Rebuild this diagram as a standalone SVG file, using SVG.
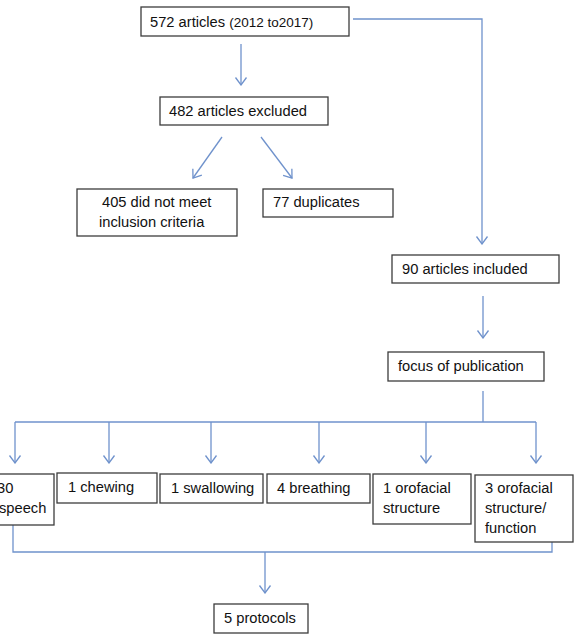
<svg xmlns="http://www.w3.org/2000/svg" width="576" height="635" viewBox="0 0 576 635">
<style>
.box{fill:#fff;stroke:#3c3c3c;stroke-width:1.3}
.t{font-family:"Liberation Sans",Arial,sans-serif;font-size:14.7px;fill:#111}
.s{font-size:13.5px}
.c{fill:none;stroke:#6f92cc;stroke-width:1.3}
</style>
<defs>
<marker id="ah" viewBox="-9 -7 10 14" markerWidth="10" markerHeight="14" markerUnits="userSpaceOnUse" refX="0" refY="0" orient="auto">
<path d="M-7.5,-5.5 L0,0 L-7.5,5.5" fill="none" stroke="#6f92cc" stroke-width="1.3"/>
</marker>
</defs>
<rect width="576" height="635" fill="#fff"/>
<g id="connectors">
<line class="c" x1="241" y1="44" x2="241" y2="85" marker-end="url(#ah)"/>
<polyline class="c" points="353,19 482,19 482,244" marker-end="url(#ah)"/>
<line class="c" x1="222" y1="137" x2="193" y2="178" marker-end="url(#ah)"/>
<line class="c" x1="261" y1="137" x2="292" y2="178" marker-end="url(#ah)"/>
<line class="c" x1="483" y1="296" x2="483" y2="338" marker-end="url(#ah)"/>
<line class="c" x1="483" y1="391" x2="483" y2="422"/>
<line class="c" x1="15" y1="422" x2="536" y2="422"/>
<line class="c" x1="15" y1="422" x2="15" y2="463" marker-end="url(#ah)"/>
<line class="c" x1="109" y1="422" x2="109" y2="463" marker-end="url(#ah)"/>
<line class="c" x1="211" y1="422" x2="211" y2="463" marker-end="url(#ah)"/>
<line class="c" x1="319" y1="422" x2="319" y2="463" marker-end="url(#ah)"/>
<line class="c" x1="426" y1="422" x2="426" y2="463" marker-end="url(#ah)"/>
<line class="c" x1="536" y1="422" x2="536" y2="463" marker-end="url(#ah)"/>
<polyline class="c" points="13,525 13,552 552,552 552,542"/>
<line class="c" x1="265" y1="552" x2="265" y2="593" marker-end="url(#ah)"/>
</g>
<g id="n572">
<rect class="box" x="141" y="7" width="208" height="29"/>
<text class="t" x="150" y="27">572 articles <tspan class="s">(2012 to2017)</tspan></text>
</g>
<g id="n482">
<rect class="box" x="160" y="97" width="168" height="28"/>
<text class="t" x="169" y="116">482 articles excluded</text>
</g>
<g id="n405">
<rect class="box" x="77" y="189" width="160" height="47"/>
<text class="t" x="102" y="207">405 did not meet</text>
<text class="t" x="99" y="227">inclusion criteria</text>
</g>
<g id="n77">
<rect class="box" x="263" y="189" width="130" height="28"/>
<text class="t" x="273" y="207">77 duplicates</text>
</g>
<g id="n90">
<rect class="box" x="392" y="255" width="167" height="28"/>
<text class="t" x="402" y="274">90 articles included</text>
</g>
<g id="nfocus">
<rect class="box" x="388" y="352" width="156" height="29"/>
<text class="t" x="398" y="371">focus of publication</text>
</g>
<g id="nspeech">
<rect class="box" x="-10" y="474" width="64" height="51"/>
<text class="t" x="-3" y="493">30</text>
<text class="t" x="-1" y="513">speech</text>
</g>
<g id="nchewing">
<rect class="box" x="57" y="473" width="100" height="30"/>
<text class="t" x="68" y="492">1 chewing</text>
</g>
<g id="nswallowing">
<rect class="box" x="160" y="474" width="103" height="29"/>
<text class="t" x="171" y="493">1 swallowing</text>
</g>
<g id="nbreathing">
<rect class="box" x="267" y="474" width="103" height="29"/>
<text class="t" x="277" y="493">4 breathing</text>
</g>
<g id="norofacial">
<rect class="box" x="373" y="474" width="98" height="50"/>
<text class="t" x="383" y="493">1 orofacial</text>
<text class="t" x="383" y="513">structure</text>
</g>
<g id="norofacial2">
<rect class="box" x="475" y="475" width="98" height="67"/>
<text class="t" x="485" y="493">3 orofacial</text>
<text class="t" x="485" y="513">structure/</text>
<text class="t" x="485" y="533">function</text>
</g>
<g id="nprotocols">
<rect class="box" x="214" y="604" width="94" height="29"/>
<text class="t" x="224" y="623">5 protocols</text>
</g>
</svg>
